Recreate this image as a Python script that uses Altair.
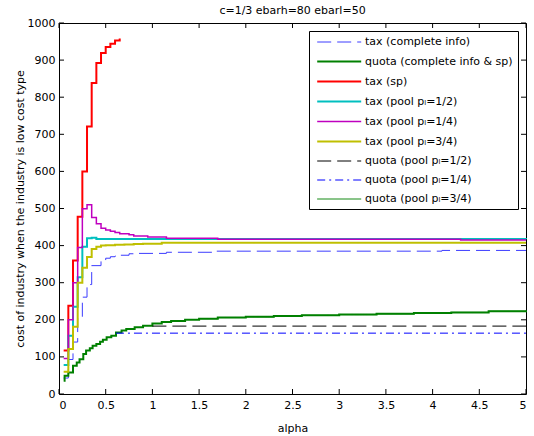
import altair as alt
import pandas as pd

# Series labels, in legend/draw order
names = [
    "tax (complete info)",
    "quota (complete info & sp)",
    "tax (sp)",
    "tax (pool pₗ=1/2)",
    "tax (pool pₗ=1/4)",
    "tax (pool pₗ=3/4)",
    "quota (pool pₗ=1/2)",
    "quota (pool pₗ=1/4)",
    "quota (pool pₗ=3/4)",
]

# tax (complete info)
a_tax_ci = [0.05, 0.1, 0.15, 0.2, 0.25, 0.3, 0.35, 0.45, 0.5, 0.55, 0.6, 0.65, 0.75, 0.85, 1.15, 1.65, 4.1, 5.0]
v_tax_ci = [43, 93, 140, 205, 261, 295, 346, 360, 366, 370, 372, 374, 378, 379, 382, 385, 387, 387]

# quota (complete info & sp)
a_quota_ci = [0.05, 0.06, 0.1, 0.15, 0.19, 0.22, 0.26, 0.29, 0.33, 0.36, 0.4, 0.44, 0.47, 0.51, 0.56,
              0.61, 0.67, 0.72, 0.81, 0.9, 1.0, 1.1, 1.2, 1.35, 1.5, 1.7, 2.0, 2.3, 2.6, 3.0, 3.4,
              3.8, 4.2, 4.6, 5.0]
v_quota_ci = [36, 49, 58, 76, 85, 94, 108, 117, 123, 130, 135, 141, 146, 153, 157,
              166, 171, 175, 180, 184, 190, 194, 197, 200, 203, 206, 208, 210, 212, 214, 216,
              218, 220, 223, 225]

# tax (sp)
a_tax_sp = [0.05, 0.1, 0.15, 0.2, 0.25, 0.3, 0.35, 0.4, 0.45, 0.5, 0.55, 0.6, 0.65]
v_tax_sp = [117, 238, 360, 478, 600, 721, 838, 892, 919, 935, 944, 953, 958]

# tax (pool p_l=1/2)
a_tax_p12 = [0.05, 0.1, 0.15, 0.2, 0.25, 0.3, 0.35, 0.4, 5.0]
v_tax_p12 = [78, 157, 235, 315, 397, 420, 421, 418, 417]

# tax (pool p_l=1/4)
a_tax_p14 = [0.05, 0.1, 0.15, 0.2, 0.25, 0.3, 0.35, 0.4, 0.45, 0.5, 0.55, 0.6, 0.65, 0.75,
             0.8, 0.95, 1.15, 1.7, 4.3, 5.0]
v_tax_p14 = [96, 200, 300, 395, 499, 510, 476, 459, 447, 442, 439, 435, 432, 429,
             426, 423, 420, 417, 415, 415]

# tax (pool p_l=3/4)
a_tax_p34 = [0.05, 0.1, 0.15, 0.2, 0.25, 0.3, 0.35, 0.4, 0.45, 0.5, 0.6, 0.7, 0.8, 0.9, 1.1, 5.0]
v_tax_p34 = [60, 121, 181, 300, 340, 369, 391, 397, 400, 401, 402, 403, 404, 405, 408, 408]

# quota (pool p_l=1/2)
a_quota_p12 = [1.0, 5.0]
v_quota_p12 = [183, 183]

# quota (pool p_l=1/4)
a_quota_p14 = [0.61, 5.0]
v_quota_p14 = [164, 164]

# quota (pool p_l=3/4)
a_quota_p34 = [1.5, 1.7, 2.0, 2.3, 2.6, 3.0, 3.4, 3.8, 4.2, 4.6, 5.0]
v_quota_p34 = [203, 206, 208, 210, 212, 214, 216, 218, 220, 223, 225]

series = [
    (a_tax_ci, v_tax_ci), (a_quota_ci, v_quota_ci), (a_tax_sp, v_tax_sp),
    (a_tax_p12, v_tax_p12), (a_tax_p14, v_tax_p14), (a_tax_p34, v_tax_p34),
    (a_quota_p12, v_quota_p12), (a_quota_p14, v_quota_p14), (a_quota_p34, v_quota_p34),
]

rows = []
for k, (name, (xs, ys)) in enumerate(zip(names, series)):
    for i, (x, y) in enumerate(zip(xs, ys)):
        rows.append({"series": name, "alpha": x, "cost": y, "k": k, "i": i})
df = pd.DataFrame(rows)

colors = ["#3c3cff", "#008000", "#ff0000", "#00bfbf", "#bf00bf", "#bfbf00", "#000000", "#0000ff", "#008000"]
dashes = [[14, 6], [1, 0], [1, 0], [1, 0], [1, 0], [1, 0], [14, 6], [8, 4, 2, 4], [1, 0]]
widths = [1, 2, 2, 2, 1.5, 2, 1, 1, 1]

x_ticks = [0, 0.5, 1, 1.5, 2, 2.5, 3, 3.5, 4, 4.5, 5]
y_ticks = [0, 100, 200, 300, 400, 500, 600, 700, 800, 900, 1000]

W, H = 467, 371
FONT = "DejaVu Sans"

xscale = alt.Scale(domain=[0, 5], nice=False, zero=False)
yscale = alt.Scale(domain=[0, 1000], nice=False)

# one axis definition shared by every layer, so the merged axes keep these settings
x_axis = alt.Axis(values=x_ticks, format="~g", title="alpha", grid=False,
                  ticks=False, domain=False, labelPadding=5, titlePadding=12,
                  labelOverlap=False)
y_axis = alt.Axis(values=y_ticks, format="d",
                  title="cost of industry when the industry is low cost type",
                  grid=False, ticks=False, domain=False, labelPadding=4, titlePadding=2,
                  labelOverlap=False)

lines = alt.Chart(df).mark_line(interpolate="step-after").encode(
    x=alt.X("alpha:Q", scale=xscale, axis=x_axis),
    y=alt.Y("cost:Q", scale=yscale, axis=y_axis),
    color=alt.Color("series:N", scale=alt.Scale(domain=names, range=colors),
                    legend=alt.Legend(title=None)),
    strokeDash=alt.StrokeDash("series:N", scale=alt.Scale(domain=names, range=dashes),
                              legend=alt.Legend(title=None)),
    strokeWidth=alt.StrokeWidth("series:N",
                                scale=alt.Scale(type="ordinal", domain=names, range=widths),
                                legend=alt.Legend(title=None)),
    detail="k:O",
    order="i:Q",
)

# inward tick marks on all four sides of the frame
xt = pd.DataFrame({"t": x_ticks})
yt = pd.DataFrame({"t": y_ticks})
tick_style = dict(color="black", strokeWidth=1)
bottom_ticks = alt.Chart(xt).mark_rule(**tick_style).encode(
    x=alt.X("t:Q", scale=xscale, axis=x_axis), y=alt.value(H), y2=alt.value(H - 5))
top_ticks = alt.Chart(xt).mark_rule(**tick_style).encode(
    x=alt.X("t:Q", scale=xscale, axis=x_axis), y=alt.value(0), y2=alt.value(5))
left_ticks = alt.Chart(yt).mark_rule(**tick_style).encode(
    y=alt.Y("t:Q", scale=yscale, axis=y_axis), x=alt.value(0), x2=alt.value(5))
right_ticks = alt.Chart(yt).mark_rule(**tick_style).encode(
    y=alt.Y("t:Q", scale=yscale, axis=y_axis), x=alt.value(W), x2=alt.value(W - 5))

chart = alt.layer(lines, bottom_ticks, top_ticks, left_ticks, right_ticks).properties(
    width=W, height=H,
    title=alt.Title("c=1/3 ebarh=80 ebarl=50", font=FONT, fontSize=11, fontWeight="normal",
                    color="black", offset=1),
    autosize=alt.AutoSizeParams(type="none"),
    padding={"left": 59, "top": 23, "right": 8, "bottom": 42},
    background="white",
).configure_view(
    stroke="black", strokeWidth=1,
).configure_axis(
    labelFont=FONT, labelFontSize=11, labelColor="black",
    titleFont=FONT, titleFontSize=11, titleFontWeight="normal", titleColor="black",
).configure_legend(
    orient="none", legendX=250, legendY=8,
    fillColor="white", strokeColor="black", padding=5,
    labelFont=FONT, labelFontSize=11, labelColor="black", labelOffset=38,
    symbolType="M-0.6,0H7.4", symbolSize=121, rowPadding=8, labelLimit=400,
)

chart.save("out.html", embed_options={"renderer": "svg", "actions": False})
